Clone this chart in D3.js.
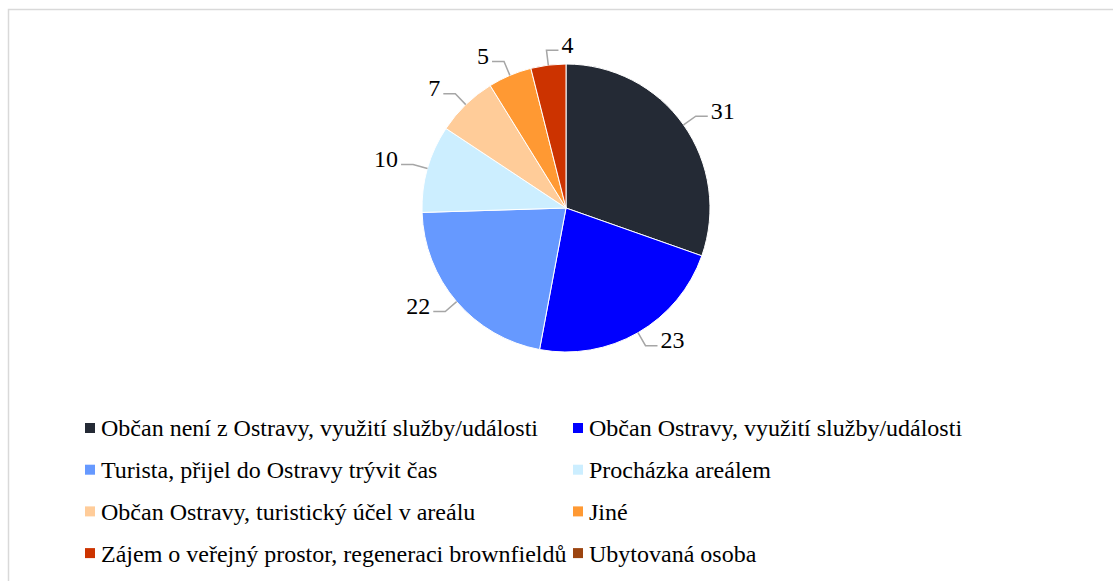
<!DOCTYPE html>
<html>
<head>
<meta charset="utf-8">
<script src="https://cdn.jsdelivr.net/npm/d3@7"></script>
<style>
body{margin:0;background:#fff;}
</style>
</head>
<body>
<script>
var categories = [
	'Občan není z Ostravy, využití služby/události',
	'Občan Ostravy, využití služby/události',
	'Turista, přijel do Ostravy trývit čas',
	'Procházka areálem',
	'Občan Ostravy, turistický účel v areálu',
	'Jiné',
	'Zájem o veřejný prostor, regeneraci brownfieldů',
	'Ubytovaná osoba'
];
var values = [31, 23, 22, 10, 7, 5, 4, 0];
var colors = ['#242a35','#0000ff','#6699ff','#cceeff','#ffcc99','#ff9933','#cc3300','#9c4410'];

var width = 1113, height = 581;
var cx = 566, cy = 208, radius = 144;
var font = "'Liberation Serif'";

var data = categories.map((c,i)=>({name:c, value:values[i], color:colors[i]}));

var svg = d3.select('body').append('svg')
	.attr('width',width).attr('height',height);

// chart frame
svg.append('rect')
	.attr('x',8.5).attr('y',9.5)
	.attr('width',width).attr('height',height)
	.attr('fill','none').attr('stroke','#d9d9d9').attr('stroke-width',1.5);

var pie = d3.pie().sort(null).value(d=>d.value);
var arc = d3.arc().innerRadius(0).outerRadius(radius);
var arcs = pie(data);

var g = svg.append('g').attr('transform',`translate(${cx},${cy})`);

g.selectAll('path.slice')
	.data(arcs.filter(d=>d.value>0))
	.enter().append('path')
		.attr('class','slice')
		.attr('d',arc)
		.attr('fill',d=>d.data.color)
		.attr('stroke','#fff')
		.attr('stroke-width',1);

// labels with leader lines
var pt = (a,r)=>[Math.sin(a)*r, -Math.cos(a)*r];
var labels = g.selectAll('g.lbl')
	.data(arcs.filter(d=>d.value>0))
	.enter().append('g').attr('class','lbl');

labels.each(function(d){
	var mid = (d.startAngle+d.endAngle)/2;
	// labels close to the top go to the right, like excel does
	var side = Math.sin(mid) >= -0.2 ? 1 : -1;
	var p0 = pt(mid, radius);
	var p1 = pt(mid, radius+15);
	var p2 = [p1[0]+side*12, p1[1]];
	d3.select(this).append('polyline')
		.attr('points',[p0,p1,p2].map(p=>p.join(',')).join(' '))
		.attr('fill','none').attr('stroke','#a6a6a6').attr('stroke-width',1.5);
	d3.select(this).append('text')
		.attr('x',p2[0]+side*3).attr('y',p2[1]-6)
		.attr('dy','0.35em')
		.attr('text-anchor',side>0?'start':'end')
		.style('font-family',font).style('font-size','24px')
		.text(d.value);
});

// legend
var legend = svg.append('g');
var colX = [85, 573], rowY = 428, rowH = 41.7;
var item = legend.selectAll('g.item')
	.data(data)
	.enter().append('g')
		.attr('class','item')
		.attr('transform',(d,i)=>`translate(${colX[i%2]},${rowY+Math.floor(i/2)*rowH})`);
item.append('rect')
	.attr('x',0).attr('y',-5).attr('width',10).attr('height',10)
	.attr('fill',d=>d.color);
item.append('text')
	.attr('x',16).attr('y',0).attr('dy','0.35em')
	.style('font-family',font).style('font-size','24px')
	.text(d=>d.name);
</script>
</body>
</html>
